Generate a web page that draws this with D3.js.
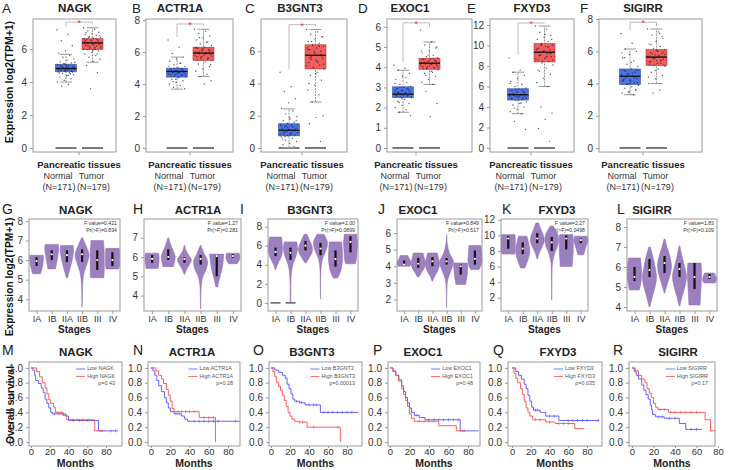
<!DOCTYPE html>
<html><head><meta charset="utf-8">
<script src="https://cdn.jsdelivr.net/npm/d3@7"></script>
<style>body{margin:0;background:#fff} svg text{font-family:"Liberation Sans",Arial,sans-serif}</style>
</head><body><svg id="c" width="729" height="470"></svg>
<script>
// ---------------- DATA ----------------
const genes = ["NAGK","ACTR1A","B3GNT3","EXOC1","FXYD3","SIGIRR"];
const lettersTop = ["A","B","C","D","E","F"];
const lettersMid = ["G","H","I","J","K","L"];
const lettersBot = ["M","N","O","P","Q","R"];
const groupLabels = ["Normal","Tumor"];
const groupCounts = ["(N=171)","(N=179)"];
const stages = ["IA","IB","IIA","IIB","III","IV"];

// box stats: [lower whisker, q1, median, q3, upper whisker]
const normalBox = [[4.0,4.62,4.82,5.08,5.68],[3.68,4.43,4.78,4.99,5.68],[0.02,0.75,1.1,1.5,2.42],[1.77,2.5,2.67,3.03,3.85],[3.35,4.68,5.2,5.78,7.4],[3.3,3.93,4.45,4.9,6.14]];
const tumorBox  = [[5.2,5.96,6.37,6.63,7.29],[4.47,5.47,5.93,6.3,7.42],[2.85,4.9,5.75,6.4,7.35],[3.15,3.9,4.2,4.45,5.25],[6.0,8.4,9.35,10.2,11.9],[4.0,5.12,5.64,6.1,7.38]];
const bracketTop = [7.63,7.75,7.65,6.2,12.2,7.8];
const normalPts = [
 [7.17,6.9,6.5,6.2,5.9,5.75,5.6,5.5,5.4,5.3,5.22,5.15,5.1,5.05,5.0,4.96,4.92,4.88,4.85,4.82,4.8,4.77,4.74,4.71,4.68,4.65,4.62,4.58,4.52,4.45,4.38,4.3,4.2,4.1,4.0,3.85,3.75,4.6,4.7,4.75,4.8,4.85,4.9,4.95,5.0,4.65,4.72,4.78,4.84,4.9,4.98,5.05,4.55,4.5,5.12,5.2,4.4],
 [6.75,6.3,5.9,5.68,5.55,5.42,5.3,5.2,5.1,5.02,4.96,4.9,4.85,4.8,4.76,4.72,4.68,4.64,4.6,4.55,4.5,4.45,4.4,4.3,4.2,4.1,4.0,3.9,3.8,3.7,4.45,4.5,4.55,4.6,4.65,4.7,4.75,4.8,4.85,4.9,4.95,4.98,4.62,4.72,4.82,4.92,4.3,5.1,5.3,4.15],
 [4.7,3.8,3.5,3.05,2.8,2.45,2.3,2.1,1.95,1.8,1.7,1.6,1.52,1.45,1.38,1.3,1.22,1.15,1.1,1.05,1.0,0.95,0.9,0.85,0.8,0.75,0.68,0.6,0.5,0.4,0.3,0.2,0.1,0.78,0.85,0.92,1.0,1.08,1.15,1.22,1.3,1.38,1.45,0.82,0.95,1.12,1.25,1.4,1.48,0.7,1.7,1.9,0.55],
 [4.1,3.95,3.85,3.7,3.55,3.4,3.25,3.15,3.05,3.0,2.95,2.9,2.85,2.8,2.75,2.7,2.67,2.63,2.6,2.56,2.52,2.48,2.4,2.3,2.2,2.1,2.0,1.9,1.77,1.6,2.52,2.56,2.6,2.64,2.68,2.72,2.76,2.8,2.85,2.9,2.95,3.0,2.55,2.65,2.75,2.88,2.45,3.2,3.5,2.25],
 [8.8,7.6,7.4,7.1,6.8,6.5,6.2,6.0,5.85,5.75,5.6,5.5,5.4,5.3,5.2,5.12,5.05,4.95,4.85,4.75,4.65,4.5,4.35,4.2,4.0,3.8,3.55,3.35,2.6,1.8,4.7,4.8,4.9,5.0,5.1,5.2,5.3,5.4,5.5,5.6,5.7,5.75,4.85,5.05,5.25,5.45,5.65,6.3,4.4,3.9],
 [7.1,6.5,6.14,6.0,5.8,5.6,5.4,5.2,5.05,4.9,4.8,4.7,4.6,4.5,4.45,4.38,4.3,4.22,4.15,4.05,3.95,3.88,3.8,3.7,3.6,3.5,3.4,3.3,3.95,4.05,4.15,4.25,4.35,4.45,4.55,4.65,4.75,4.85,4.0,4.2,4.4,4.6,4.8,5.3,5.6,3.6,3.45,5.9]
];
const tumorPts = [
 [7.29,7.2,7.1,7.02,6.95,6.88,6.82,6.76,6.7,6.65,6.6,6.55,6.5,6.45,6.4,6.37,6.33,6.28,6.23,6.18,6.12,6.06,6.0,5.95,5.88,5.8,5.7,5.6,5.5,5.38,5.25,5.0,4.56,3.6,6.0,6.1,6.2,6.3,6.4,6.5,6.6,6.05,6.15,6.25,6.35,6.45,6.55,6.62,5.98,6.7,6.8,5.9,7.0,5.7],
 [7.42,7.3,7.15,7.0,6.88,6.75,6.62,6.5,6.4,6.3,6.22,6.15,6.08,6.0,5.95,5.9,5.84,5.78,5.7,5.62,5.55,5.47,5.38,5.25,5.1,4.95,4.8,4.6,4.47,4.2,4.0,5.5,5.6,5.7,5.8,5.9,6.0,6.1,6.2,6.28,5.55,5.65,5.75,5.85,5.95,6.05,6.15,6.25,6.6,6.9,5.2],
 [7.35,7.2,7.05,6.9,6.75,6.6,6.5,6.4,6.3,6.2,6.1,6.0,5.9,5.8,5.75,5.65,5.55,5.45,5.3,5.15,5.0,4.9,4.7,4.5,4.2,3.9,3.6,3.3,2.85,2.0,1.9,1.5,0.4,4.95,5.1,5.3,5.5,5.7,5.9,6.1,6.3,6.35,5.2,5.4,5.6,5.8,6.0,6.2,6.38,6.6,6.9,4.6,4.0],
 [5.85,5.25,5.1,4.95,4.8,4.7,4.6,4.52,4.46,4.42,4.38,4.33,4.28,4.24,4.2,4.16,4.12,4.08,4.03,3.98,3.93,3.88,3.8,3.7,3.55,3.4,3.25,3.15,2.8,2.2,1.55,3.92,3.98,4.04,4.1,4.16,4.22,4.28,4.34,4.4,4.44,3.95,4.05,4.15,4.25,4.35,4.6,4.8,3.75,3.6,5.0],
 [11.9,11.6,11.3,11.0,10.8,10.6,10.4,10.2,10.05,9.9,9.75,9.6,9.45,9.35,9.2,9.05,8.9,8.75,8.6,8.45,8.3,8.1,7.8,7.5,7.2,6.8,6.4,6.0,4.0,3.4,2.8,1.9,0.65,8.45,8.7,8.9,9.1,9.3,9.5,9.7,9.9,10.1,8.6,8.8,9.0,9.2,9.4,9.6,9.8,10.0,10.6,11.1,7.6],
 [7.38,7.2,7.0,6.8,6.6,6.45,6.3,6.18,6.1,6.0,5.92,5.85,5.78,5.7,5.64,5.58,5.5,5.42,5.35,5.25,5.15,5.05,4.9,4.7,4.5,4.3,4.0,3.6,3.4,5.15,5.25,5.35,5.45,5.55,5.65,5.75,5.85,5.95,6.05,5.2,5.4,5.6,5.8,6.0,6.4,6.9,4.8,4.4,7.1]
];
const boxTicks = [[0,2,4,6],[0,2,4,6,8],[0,2,4,6],[0,1,2,3,4,5,6],[0,2,4,6,8,10,12],[0,2,4,6,8]];

const fValues = ["0.421","1.27","2.00","0.849","2.27","1.83"];
const prValues = ["0.834","0.281","0.0899","0.517","0.0498","0.109"];
const violinTicks = [[4,5,6,7,8],[4,5,6,7],[0,2,4,6,8],[2,3,4,5,6],[2,4,6,8,10,12],[4,5,6,7,8]];
// violin: [min, max, q1, median, q3, relative widths from min to max]
const violinNAGK = [
 [5.3,6.25,5.7,5.95,6.15,[0.55,0.7,0.8,0.9,0.95,1,0.95]],
 [5.55,6.8,6.0,6.3,6.5,[0.55,0.65,0.75,0.85,0.95,1,0.95]],
 [5.1,6.75,5.9,6.25,6.5,[0.1,0.3,0.5,0.7,0.85,0.95,0.9]],
 [3.6,7.15,5.9,6.3,6.55,[0.02,0.04,0.06,0.12,0.3,0.7,1.0,0.6,0.05]],
 [5.1,7.0,5.5,6.0,6.5,[0.95,1,1,1,1,0.95,0.9]],
 [5.55,6.6,5.7,6.0,6.4,[0.9,1,1,1,1,0.95]]
];
const violinACTR1A = [
 [5.4,6.2,5.7,5.9,6.1,[0.85,0.95,1,1,0.95]],
 [5.5,7.0,5.85,6.0,6.4,[0.75,0.9,1,0.8,0.5,0.25,0.05]],
 [5.1,6.6,5.7,5.9,6.0,[0.05,0.3,0.7,1,0.6,0.2,0.05]],
 [3.3,6.6,5.6,5.9,6.1,[0.02,0.03,0.05,0.1,0.3,0.8,1,0.5,0.05]],
 [4.45,6.15,5.0,6.05,6.1,[0.15,0.3,0.5,0.7,0.85,0.95,1]],
 [5.65,6.2,5.95,6.05,6.15,[0.6,0.9,1,0.9]]
];
const violinB3GNT3 = [
 [3.5,6.9,4.9,5.35,5.8,[0.05,0.3,0.7,0.95,1,0.95,0.85]],
 [0.1,6.4,4.5,5.25,5.8,[0.05,0.05,0.05,0.08,0.15,0.35,0.75,1,0.9]],
 [4.2,7.2,5.5,6.0,6.5,[0.1,0.5,0.9,1,0.8,0.5,0.2]],
 [0.4,7.2,5.0,5.7,6.3,[0.01,0.02,0.03,0.05,0.1,0.3,0.8,1,0.5]],
 [2.6,6.4,3.8,4.6,5.5,[0.3,0.7,0.9,1,1,0.95,0.9]],
 [4.1,7.2,5.3,6.4,7.0,[0.7,0.85,0.9,0.95,1,0.95,0.9]]
];
const violinEXOC1 = [
 [4.0,4.65,4.05,4.1,4.35,[0.8,1,0.9,0.7,0.55]],
 [3.35,4.8,3.9,4.15,4.5,[0.1,0.5,0.9,1,0.85,0.7]],
 [3.1,4.8,4.0,4.3,4.55,[0.05,0.3,0.7,0.95,1,0.85,0.7]],
 [1.5,5.9,4.1,4.3,4.5,[0.01,0.02,0.05,0.15,0.6,1,0.4,0.1,0.02]],
 [2.9,4.2,3.5,4.0,4.1,[0.7,0.8,0.9,0.95,1,0.95]],
 [3.8,5.25,4.1,4.45,4.95,[0.6,0.9,1,0.95,0.9,0.85]]
];
const violinFXYD3 = [
 [7.6,10.1,8.3,9.6,9.9,[0.9,1,1,1,1,0.95]],
 [5.8,9.9,7.6,8.3,9.1,[0.3,0.6,0.85,1,0.95,0.8,0.6]],
 [7.0,11.6,9.0,9.6,10.3,[0.05,0.3,0.7,1,0.85,0.5,0.2]],
 [1.7,11.2,8.0,9.1,9.8,[0.01,0.02,0.03,0.05,0.1,0.4,0.9,0.9,0.2]],
 [6.0,10.1,8.2,9.6,10.0,[0.85,0.9,0.95,1,1,1,0.95]],
 [7.5,9.9,9.0,9.4,9.6,[0.4,0.6,0.8,1,0.9]]
];
const violinSIGIRR = [
 [4.85,6.45,5.3,5.5,6.0,[0.7,0.9,1,1,0.95,0.85]],
 [4.0,7.0,5.5,5.85,6.4,[0.05,0.4,0.8,1,0.8,0.5,0.1]],
 [4.7,7.4,5.7,6.2,6.55,[0.05,0.4,0.8,1,0.8,0.4,0.05]],
 [4.05,7.05,5.5,5.9,6.2,[0.05,0.4,0.8,1,0.7,0.35,0.05]],
 [4.1,6.2,4.9,5.5,6.2,[0.8,0.85,0.9,0.95,1,1,0.95]],
 [5.2,5.7,5.4,5.5,5.65,[0.8,1,0.9,0.7]]
];
const violins = [violinNAGK,violinACTR1A,violinB3GNT3,violinEXOC1,violinFXYD3,violinSIGIRR];
const zeroStages = [[],[],["IA","IB"],[],[],[]];

const kmP = ["0.43","0.28","0.00013","0.48","0.035","0.17"];
const kmXTicks = [0,20,40,60,80];
const kmYTicks = [0,0.2,0.4,0.6,0.8,1.0];
const kmLow = [
 [[0,1],[2,0.97],[4,0.9],[5,0.83],[8,0.79],[11,0.73],[13,0.67],[15,0.58],[17,0.52],[19,0.46],[21,0.4],[23,0.38],[37,0.35],[40,0.29],[72,0.15],[93,0.15]],
 [[0,1],[2,0.96],[4,0.9],[6,0.83],[8,0.76],[11,0.68],[14,0.6],[16,0.53],[18,0.46],[20,0.41],[24,0.38],[32,0.35],[35,0.31],[38,0.28],[92,0.28]],
 [[0,1],[4,0.97],[8,0.94],[12,0.9],[15,0.86],[17,0.78],[19,0.72],[21,0.65],[23,0.58],[25,0.55],[30,0.53],[36,0.5],[52,0.4],[92,0.4]],
 [[0,1],[3,0.96],[6,0.9],[9,0.84],[12,0.76],[14,0.68],[16,0.6],[18,0.53],[20,0.46],[22,0.4],[25,0.36],[30,0.33],[36,0.3],[72,0.15],[91,0.15]],
 [[0,1],[4,0.95],[7,0.9],[10,0.85],[13,0.78],[15,0.72],[17,0.63],[19,0.55],[21,0.47],[23,0.43],[30,0.4],[36,0.35],[50,0.29],[93,0.29]],
 [[0,1],[2,0.95],[4,0.9],[6,0.85],[9,0.77],[11,0.7],[13,0.64],[15,0.58],[17,0.5],[18,0.44],[19,0.37],[22,0.34],[30,0.32],[44,0.25],[50,0.17],[65,0.17]]
];
const kmHigh = [
 [[0,1],[6,0.95],[9,0.88],[12,0.8],[15,0.73],[17,0.65],[19,0.57],[21,0.52],[24,0.47],[26,0.4],[34,0.36],[38,0.3],[68,0.15],[78,0.15]],
 [[0,1],[5,0.96],[8,0.9],[11,0.85],[13,0.79],[16,0.71],[18,0.63],[20,0.55],[22,0.45],[24,0.41],[50,0.33],[67,0.0]],
 [[0,1],[2,0.95],[4,0.88],[6,0.8],[8,0.75],[10,0.7],[12,0.63],[14,0.56],[16,0.48],[18,0.4],[20,0.35],[22,0.31],[25,0.28],[28,0.27],[38,0.2],[73,0.0]],
 [[0,1],[3,0.95],[6,0.9],[9,0.82],[12,0.72],[14,0.64],[16,0.56],[18,0.48],[20,0.38],[22,0.32],[25,0.28],[50,0.22],[68,0.15],[77,0.15]],
 [[0,1],[2,0.93],[4,0.86],[6,0.8],[9,0.72],[11,0.64],[13,0.55],[15,0.46],[17,0.4],[19,0.35],[22,0.3],[36,0.27],[46,0.25],[67,0.18],[77,0.18]],
 [[0,1],[3,0.96],[6,0.9],[9,0.85],[12,0.8],[14,0.72],[16,0.66],[18,0.6],[20,0.52],[22,0.47],[24,0.44],[34,0.4],[68,0.3],[73,0.15],[77,0.15]]
];
const kmLowCens = [[25,30,34,45,52,60,85,90],[26,30,45,50,55,60,65,70,88],[27,32,40,45,48,56,60,65,70,75,80,85],[27,40,45,50,55,60,65,70],[25,27,40,45,60,65,70,75,80,92],[25,28,35,40,55,60]];
const kmHighCens = [[28,32,45,50,55,62,75],[28,32,36,40,45,55,60,65],[30,33,45,70],[30,35,40,45,76],[25,30,40,50,55,60],[26,30,36,40,45,50,55,60]];

// ---------------- LAYOUT ----------------
const row1 = [
 {x0:33,x1:116,cx:79,lx:2,tx:75,dom:[-0.24,7.82]},
 {x0:146,x1:233,cx:190,lx:132,tx:180,dom:[-0.25,8.06]},
 {x0:261,x1:347,cx:302,lx:245,tx:300,dom:[-0.25,8.0]},
 {x0:387,x1:472,cx:416,lx:358,tx:410,dom:[-0.2,6.39]},
 {x0:490,x1:574,cx:531,lx:467,tx:532,dom:[-0.39,12.59]},
 {x0:599,x1:702,cx:643,lx:580,tx:643,dom:[-0.25,8.0]}
];
const row2 = [
 {x0:29,x1:120,lx:2,tx:76,dom:[3.4,8.1]},
 {x0:144,x1:241,lx:133,tx:198,dom:[3.2,7.97]},
 {x0:268,x1:358,lx:240,tx:310,dom:[-0.85,8.8]},
 {x0:397,x1:482,lx:378,tx:418,dom:[1.3,6.85]},
 {x0:501,x1:588,lx:502,tx:557,dom:[0.3,12.1]},
 {x0:627,x1:717,lx:617,tx:652,dom:[3.8,8.4]}
];
const row3 = [
 {x0:29,x1:122,lx:2,tx:76,dom:[-2.1,97]},
 {x0:148,x1:240,lx:133,tx:192,dom:[-3.1,92.5]},
 {x0:269,x1:362,lx:253,tx:312,dom:[-2.1,95.8]},
 {x0:388,x1:480,lx:373,tx:423,dom:[-2,92.3]},
 {x0:508,x1:602,lx:493,tx:558,dom:[-4.3,96]},
 {x0:629,x1:715,lx:613,tx:678,dom:[-2.8,77.2]}
];

const svg = d3.select("#c");
const FRAME = "#9a9a9a";
function text(g, x, y, s, size, opt={}) {
  return g.append("text").attr("x",x).attr("y",y).text(s)
    .attr("font-size",size).attr("fill",opt.fill||"#222")
    .attr("font-weight",opt.bold?"bold":"normal")
    .attr("text-anchor",opt.anchor||"middle")
    .attr("dominant-baseline",opt.base||"middle");
}
function styleAxis(s, size){
  s.select(".domain").remove();
  s.selectAll("line").attr("stroke",FRAME);
  s.selectAll("text").attr("font-size",size).attr("fill","#333")
    .attr("font-family",'"Liberation Sans",Arial,sans-serif');
}

// y-axis titles
function vtitle(x,y,s,size){ svg.append("text").attr("transform",`translate(${x},${y}) rotate(-90)`)
  .attr("text-anchor","middle").attr("dominant-baseline","middle").attr("font-size",size)
  .attr("font-weight","bold").attr("fill","#111").text(s); }
vtitle(10,82,"Expression log2(TPM+1)",10.5);
vtitle(10,277,"Expression log2(TPM+1)",10.2);
vtitle(11,405,"Overall survival",10.5);

// ---------------- ROW 1: box plots ----------------
const offs = [-13,13.5], BW = 21;
genes.forEach((gene,i)=>{
  const L = row1[i];
  const g = svg.append("g");
  const y = d3.scaleLinear().domain(L.dom).range([152,19]);
  text(g, L.lx, 9, lettersTop[i], 13.5, {anchor:"start"});
  text(g, L.tx, 9, gene, 11.5, {bold:true});
  g.append("rect").attr("x",L.x0).attr("y",19).attr("width",L.x1-L.x0).attr("height",133)
    .attr("fill","none").attr("stroke",FRAME);
  g.append("g").attr("transform",`translate(${L.x0},0)`)
    .call(d3.axisLeft(y).tickValues(boxTicks[i]).tickSize(3).tickFormat(d3.format("d")))
    .call(s=>styleAxis(s,10));
  g.append("line").attr("x1",L.cx).attr("x2",L.cx).attr("y1",152).attr("y2",155).attr("stroke",FRAME);
  text(g, L.cx, 165, "Pancreatic tissues", 9.5, {bold:true});
  [normalBox[i], tumorBox[i]].forEach((b,k)=>{
    const cx = L.cx + offs[k];
    const pts = k===0 ? normalPts[i] : tumorPts[i];
    text(g, cx + (k===0?-8:-1), 177, groupLabels[k], 9, {fill:"#333"});
    text(g, cx + (k===0?-7:1), 188, groupCounts[k], 9, {fill:"#333"});
    g.append("line").attr("x1",cx-BW/2).attr("x2",cx+BW/2).attr("y1",y(0)).attr("y2",y(0))
      .attr("stroke","#222").attr("stroke-width",1.2);
    g.append("line").attr("x1",cx).attr("x2",cx).attr("y1",y(b[0])).attr("y2",y(b[4]))
      .attr("stroke","#999").attr("stroke-dasharray","2,1");
    [b[0],b[4]].forEach(v=>g.append("line").attr("x1",cx-6).attr("x2",cx+6).attr("y1",y(v)).attr("y2",y(v)).attr("stroke","#999"));
    g.append("rect").attr("x",cx-BW/2).attr("y",y(b[3])).attr("width",BW).attr("height",y(b[1])-y(b[3]))
      .attr("fill",k===0?"#4b73e6":"#f25c5c").attr("stroke",k===0?"#3355aa":"#b03a3a").attr("stroke-width",0.6);
    pts.forEach((v,j)=>{
      const jx = (((j*0.6180339)%1)-0.5)*BW*0.85;
      g.append("circle").attr("cx",cx+jx).attr("cy",y(v)).attr("r",0.7).attr("fill","#222").attr("opacity",0.75);
    });
    g.append("line").attr("x1",cx-BW/2).attr("x2",cx+BW/2).attr("y1",y(b[2])).attr("y2",y(b[2]))
      .attr("stroke","#111").attr("stroke-width",1.3);
  });
  const xa = L.cx+offs[0], xb = L.cx+offs[1], yt = y(bracketTop[i]);
  const ya = y(d3.max(normalPts[i]))-3, yb = y(d3.max(tumorPts[i]))-3;
  g.append("path").attr("d",`M${xa},${ya}V${yt}H${xb}V${yb}`).attr("fill","none").attr("stroke","#aaa").attr("stroke-width",0.8);
  text(g, (xa+xb)/2, yt+1.5, "*", 9, {fill:"#e33"});
});

// ---------------- ROW 2: violins ----------------
genes.forEach((gene,i)=>{
  const L = row2[i];
  const g = svg.append("g");
  const y = d3.scaleLinear().domain(L.dom).range([311,219]);
  const x = d3.scalePoint().domain(stages).range([L.x0,L.x1]).padding(0.5);
  text(g, L.lx, 210, lettersMid[i], 14, {anchor:"start"});
  text(g, L.tx, 211, gene, 11.5, {bold:true});
  g.append("rect").attr("x",L.x0).attr("y",219).attr("width",L.x1-L.x0).attr("height",92)
    .attr("fill","none").attr("stroke",FRAME);
  g.append("g").attr("transform",`translate(${L.x0},0)`)
    .call(d3.axisLeft(y).tickValues(violinTicks[i]).tickSize(3).tickFormat(d3.format("d")))
    .call(s=>styleAxis(s,10));
  g.append("g").attr("transform","translate(0,311)")
    .call(d3.axisBottom(x).tickSize(3).tickPadding(2))
    .call(s=>{styleAxis(s,9);});
  text(g, (L.x0+L.x1)/2, 330, "Stages", 10, {bold:true});
  text(g, L.x1-3, 223.5, "F value="+fValues[i], 5.2, {anchor:"end",fill:"#333"});
  text(g, L.x1-3, 230.5, "Pr(>F)="+prValues[i], 5.2, {anchor:"end",fill:"#333"});
  const hw = 7;
  violins[i].forEach((v,k)=>{
    const cx = x(stages[k]);
    const [lo,hi,q1,md,q3,w] = v;
    const prof = w.map((wd,j)=>({v: lo + j*(hi-lo)/(w.length-1), w: wd}));
    const area = d3.area().y(d=>y(d.v)).x0(d=>cx-d.w*hw).x1(d=>cx+d.w*hw).curve(d3.curveCatmullRom);
    g.append("path").attr("d",area(prof)).attr("fill","#9b7fbf").attr("stroke","#8a6db0").attr("stroke-width",0.5);
    g.append("line").attr("x1",cx).attr("x2",cx).attr("y1",y(q1)).attr("y2",y(q3)).attr("stroke","#111").attr("stroke-width",2.2);
    g.append("circle").attr("cx",cx).attr("cy",y(md)).attr("r",1.1).attr("fill","#fff");
  });
  zeroStages[i].forEach(s=>{
    const cx = x(s);
    g.append("line").attr("x1",cx-5).attr("x2",cx+5).attr("y1",y(0)).attr("y2",y(0)).attr("stroke","#333").attr("stroke-width",1.2);
  });
});

// ---------------- ROW 3: Kaplan-Meier ----------------
const BLUE = "#5050ff", RED = "#ff4a4a";
genes.forEach((gene,i)=>{
  const L = row3[i];
  const g = svg.append("g");
  const x = d3.scaleLinear().domain(L.dom).range([L.x0,L.x1]);
  const y = d3.scaleLinear().domain([-0.054,1.08]).range([446,362]);
  text(g, L.lx, 351, lettersBot[i], 14, {anchor:"start"});
  text(g, L.tx, 353, gene, 11.5, {bold:true});
  g.append("rect").attr("x",L.x0).attr("y",362).attr("width",L.x1-L.x0).attr("height",84)
    .attr("fill","none").attr("stroke",FRAME);
  g.append("g").attr("transform",`translate(${L.x0},0)`)
    .call(d3.axisLeft(y).tickValues(kmYTicks).tickSize(3).tickFormat(d3.format(".1f")))
    .call(s=>styleAxis(s,10));
  g.append("g").attr("transform","translate(0,446)")
    .call(d3.axisBottom(x).tickValues(kmXTicks).tickSize(2).tickPadding(0))
    .call(s=>styleAxis(s,9.5));
  text(g, (L.x0+L.x1)/2, 464, "Months", 10.5, {bold:true});
  const line = d3.line().x(d=>x(d[0])).y(d=>y(d[1])).curve(d3.curveStepAfter);
  [[kmLow[i],kmLowCens[i],BLUE],[kmHigh[i],kmHighCens[i],RED]].forEach(([data,cens,col])=>{
    g.append("path").attr("d",line(data)).attr("fill","none").attr("stroke",col).attr("stroke-width",0.9);
    cens.forEach(t=>{
      let s = data[0][1];
      data.forEach(d=>{ if(d[0]<=t) s=d[1]; });
      g.append("line").attr("x1",x(t)).attr("x2",x(t)).attr("y1",y(s)-1.5).attr("y2",y(s)+1.5).attr("stroke",col).attr("stroke-width",0.6);
    });
  });
  const t2 = text(g, 0, 376.5, "High "+gene, 5.4, {anchor:"start",fill:"#555"});
  const w = t2.node().getComputedTextLength();
  const sx = L.x1 - 7 - w;
  t2.attr("x",sx);
  text(g, sx, 369, "Low "+gene, 5.4, {anchor:"start",fill:"#555"});
  g.append("line").attr("x1",sx-11).attr("x2",sx-2).attr("y1",369).attr("y2",369).attr("stroke",BLUE).attr("stroke-width",0.8);
  g.append("line").attr("x1",sx-11).attr("x2",sx-2).attr("y1",376.5).attr("y2",376.5).attr("stroke",RED).attr("stroke-width",0.8);
  text(g, L.x1-7, 384, "p="+kmP[i], 5.4, {anchor:"end",fill:"#555"});
});
</script></body></html>
